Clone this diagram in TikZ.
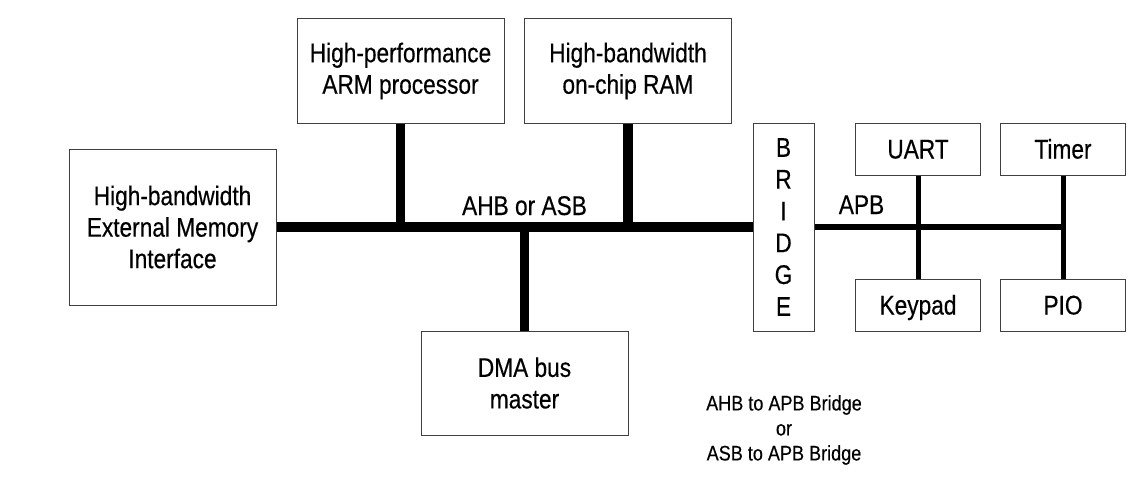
\documentclass[tikz,border=0pt]{standalone}
\usepackage{fontspec}
\newfontfamily\mainf[FakeStretch=0.84,FakeBold=0.4]{Liberation Sans}
\newfontfamily\notef[FakeStretch=0.86,FakeBold=0.3]{Liberation Sans}
\begin{document}
\begin{tikzpicture}[x=1pt,y=-1pt,
  blk/.style={draw=black!75, line width=1pt, inner sep=0pt, align=center,
    font=\mainf\fontsize{27}{31.5}\selectfont},
  small/.style={blk, minimum width=124.5pt, minimum height=52pt, text height=19pt, text depth=0pt},
  ahb/.style={line width=10.5pt, black},
  ahbv/.style={line width=9.5pt, black},
  apb/.style={line width=5.5pt, black},
  apbv/.style={line width=5pt, black},
  lbl/.style={inner sep=0pt, font=\mainf\fontsize{27}{31.5}\selectfont},
  note/.style={inner sep=0pt, align=center, font=\notef\fontsize{21}{25}\selectfont}]
\useasboundingbox (0,0) rectangle (1147,500);
\fill[white] (0,0) rectangle (1147,500);
% boxes
\node[blk, minimum width=207pt, minimum height=156pt] (emi) at (172.5,227) {High-bandwidth\\External Memory\\Interface};
\node[blk, minimum width=207pt, minimum height=104pt] (arm) at (400.5,71) {High-performance\\ARM processor};
\node[blk, minimum width=207pt, minimum height=104pt] (ram) at (628,71) {High-bandwidth\\on-chip RAM};
\node[blk, minimum width=207pt, minimum height=104pt] (dma) at (524.5,383) {DMA bus\\master};
\node[blk, minimum width=61pt, minimum height=208pt, font=\mainf\fontsize{27}{31.8}\selectfont] (bridge) at (783.5,227) {B\\R\\I\\D\\G\\E};
\node[small] (uart) at (918,149) {UART};
\node[small] (timer) at (1063,149) {Timer};
\node[small] (keypad) at (918,305) {Keypad};
\node[small] (pio) at (1063,305) {PIO};
% AHB / ASB bus
\draw[ahb] (emi.east) -- (bridge.west);
\draw[ahbv] (arm.south) -- (arm.south |- emi.east);
\draw[ahbv] (ram.south) -- (ram.south |- emi.east);
\draw[ahbv] (dma.north) -- (dma.north |- emi.east);
% APB bus
\draw[apb] (bridge.east) -- (timer.south |- bridge.east);
\draw[apbv] (uart.south) -- (keypad.north);
\draw[apbv] (timer.south) -- (pio.north);
% labels
\node[lbl, anchor=base] (ahblbl) at (524.5,215) {AHB or ASB};
\node[lbl, anchor=base] (apblbl) at (861.5,214) {APB};
\node[note] (caption) at (784,430) {AHB to APB Bridge\\or\\ASB to APB Bridge};
\end{tikzpicture}
\end{document}
